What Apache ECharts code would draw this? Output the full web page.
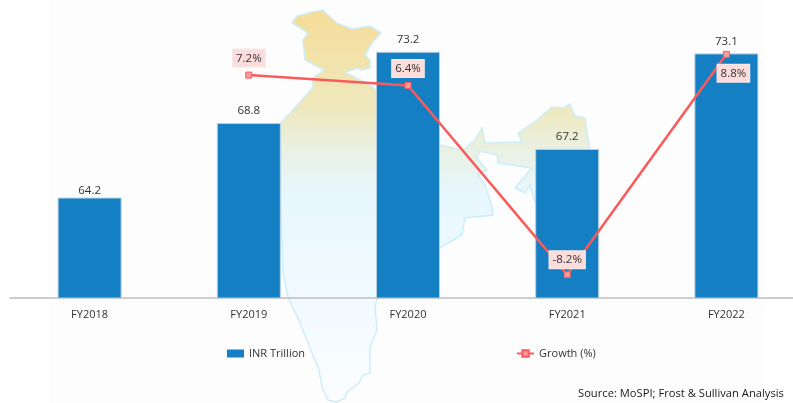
<!DOCTYPE html>
<html>
<head>
<meta charset="utf-8">
<style>
  html, body { margin: 0; padding: 0; background: #fff; }
  #chart { width: 793px; height: 403px; }
</style>
</head>
<body>
<div id="chart"></div>
<script src="https://cdn.jsdelivr.net/npm/echarts@6/dist/echarts.min.js"></script>
<script>
const categories = ['FY2018', 'FY2019', 'FY2020', 'FY2021', 'FY2022']
const inrTrillion = [64.2, 68.8, 73.2, 67.2, 73.1]
const growth = [null, 7.2, 6.4, -8.2, 8.8]

// India outline behind the bars, traced in page pixels (decoration only)
const mapOutline = [
  [292, 23], [297, 16], [312, 12], [323, 10], [328, 15], [337, 23], [352, 29], [370, 26], [381, 33],
  [372, 43], [365, 55], [370, 60], [370, 68], [362, 70], [358, 68], [345, 72], [370, 85],
  [400, 110], [440, 145], [463, 150], [475, 140], [482, 128], [485, 143], [522, 142], [518, 133],
  [537, 120], [552, 107], [563, 108], [570, 104], [575, 116], [585, 118], [587, 133], [590, 150],
  [590, 170], [536, 205], [530, 185], [525, 193], [515, 188], [532, 168], [498, 163], [497, 155],
  [480, 151], [477, 158], [487, 170], [478, 175], [485, 185], [492, 207], [493, 215], [465, 218],
  [462, 235], [441, 247], [400, 270], [377, 299], [375, 307], [377, 330], [370, 347], [370, 373],
  [363, 375], [359, 383], [347, 392], [345, 398], [337, 402], [328, 400], [322, 387], [319, 370],
  [300, 323], [288, 297], [283, 273], [281, 207], [281, 123], [300, 102], [313, 87], [313, 78],
  [324, 70], [305, 60], [303, 40], [308, 33]
]

const chart = echarts.init(document.getElementById('chart'))

chart.setOption({
  animation: false,
  backgroundColor: '#fff',
  textStyle: { fontFamily: 'Open Sans' },
  title: {
    text: 'Source: MoSPI; Frost & Sullivan Analysis',
    left: 573,
    top: 383,
    textStyle: { fontSize: 11.2, fontWeight: 'normal', color: '#1a1a1a', fontFamily: 'Open Sans' }
  },
  legend: {
    left: 222,
    top: 343,
    itemGap: 211,
    itemWidth: 17,
    itemHeight: 8,
    textStyle: { fontSize: 11, color: '#333' },
    data: [
      { name: 'INR Trillion', icon: 'rect', itemStyle: { borderWidth: 0 } },
      { name: 'Growth (%)' }
    ]
  },
  graphic: [
    {
      type: 'rect',
      z: -20,
      shape: { x: 49, y: 0, width: 714, height: 403 },
      style: { fill: '#fdfdfd' }
    },
    {
      type: 'polygon',
      z: -10,
      shape: { points: mapOutline },
      style: {
        stroke: '#cdeef8',
        lineWidth: 1.5,
        fill: new echarts.graphic.LinearGradient(0, 0, 0, 1, [
          { offset: 0, color: '#f5dc98' },
          { offset: 0.25, color: '#efe8bd' },
          { offset: 0.36, color: '#e9f1e4' },
          { offset: 0.47, color: '#e8f7ff' },
          { offset: 1, color: '#fbfdff' }
        ])
      }
    }
  ],
  grid: { left: 10, top: 6.4, width: 796, height: 291.6, outerBoundsMode: 'none' },
  xAxis: {
    type: 'category',
    data: categories,
    axisTick: { show: false },
    axisLine: { onZero: false, lineStyle: { color: '#bdbdbd', width: 1.5 } },
    axisLabel: { fontSize: 11, color: '#333', margin: 11 }
  },
  yAxis: [
    { type: 'value', min: 58, max: 76, show: false },
    { type: 'value', min: -10, max: 12.5, show: false }
  ],
  series: [
    {
      name: 'INR Trillion',
      type: 'bar',
      barWidth: 64,
      yAxisIndex: 0,
      data: inrTrillion.map((v, i) => ({
        value: v,
        label: { distance: i === 0 ? 1 : 6 }
      })),
      itemStyle: { color: '#157fc3', borderColor: '#b5cfe0', borderWidth: 1 },
      label: { show: true, position: 'top', fontSize: 11.5, color: '#333' }
    },
    {
      name: 'Growth (%)',
      type: 'line',
      yAxisIndex: 1,
      data: growth.map((v, i) => ({
        value: v,
        label: i === 4
          ? { position: 'bottom', offset: [7, 0], distance: 7 }
          : { position: 'top', distance: i === 3 ? 3 : 5 }
      })),
      symbol: 'rect',
      symbolSize: 6,
      connectNulls: false,
      lineStyle: { color: '#fa5a5a', width: 2.5 },
      itemStyle: { color: '#fd9a9a', borderColor: '#fa5a5a', borderWidth: 1 },
      label: {
        show: true,
        formatter: '{c}%',
        fontSize: 11.5,
        color: '#333',
        backgroundColor: '#fddcdc',
        borderColor: '#f4eaea',
        borderWidth: 1,
        padding: [3, 3, 2, 3]
      }
    }
  ]
})
</script>
</body>
</html>
